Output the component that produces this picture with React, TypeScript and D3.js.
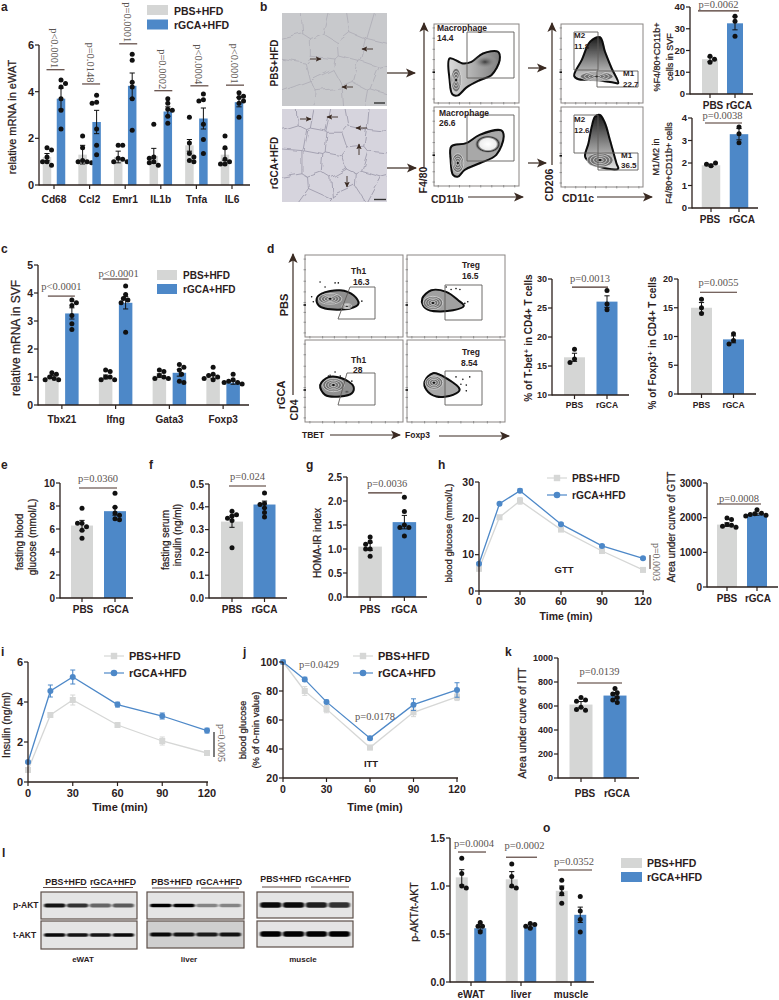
import React from "react";
import * as d3 from "d3";

const GRAY = "#d5d6d5";
const BLUE = "#4d88c8";
const INK = "#2b201c";
const PGREY = "#5b5451";
const SANS = "'Liberation Sans', Arial, 'DejaVu Sans', sans-serif";
const SERIF = "'Liberation Serif', 'Times New Roman', serif";

// panel a
const aGenes = ["Cd68", "Ccl2", "Emr1", "IL1b", "Tnfa", "IL6"];
const aPbsMean = [1.2, 1.3, 1.2, 1.25, 1.7, 1.3];
const aRgcaMean = [3.7, 2.7, 4.25, 3.15, 2.85, 3.55];
const aPbsErr = [0.15, 0.4, 0.25, 0.32, 0.25, 0.25];
const aRgcaErr = [0.45, 0.5, 0.55, 0.2, 0.45, 0.2];
const aPbsDots = [[1.6, 1.5, 1.2, 1.0, 1.0, 0.85], [2.1, 1.6, 1.05, 1.0, 1.0, 0.95], [1.7, 1.7, 1.15, 1.1, 1.0, 1.0], [2.6, 1.2, 1.15, 1.0, 0.95, 0.85], [2.9, 1.8, 1.35, 1.2, 1.05, 1.0], [2.1, 1.6, 1.1, 1.0, 0.9, 0.9]];
const aRgcaDots = [[4.5, 4.35, 4.2, 3.7, 3.2, 2.4], [3.85, 3.55, 3.5, 2.4, 1.7, 1.3], [5.6, 5.35, 4.4, 4.2, 3.7, 2.35], [3.7, 3.5, 3.25, 3.2, 2.95, 2.65], [3.9, 3.65, 3.6, 2.6, 1.95, 1.35], [3.95, 3.8, 3.75, 3.6, 3.5, 2.9]];
const aP = ["p<0.0001", "p=0.0148", "p=0.0001", "p=0.0002", "p<0.0004", "p<0.0001"];
const aPLevel = [4.94, 4.33, 6.05, 4.04, 4.25, 4.28];

// panel b
const twoGroups = ["PBS", "rGCA"];
const bMacMean = [16, 32.5];
const bMacErr = [1, 3];
const bMacDots = [[17.3, 16, 14.6], [35.8, 33.5, 26.5]];
const bRatioMean = [1.9, 3.28];
const bRatioErr = [0.05, 0.25];
const bRatioDots = [[1.88, 2.0, 1.95], [3.6, 3.3, 2.9]];

// panel c
const cGenes = ["Tbx21", "Ifng", "Gata3", "Foxp3"];
const cPbsMean = [1.0, 1.0, 1.05, 1.0];
const cRgcaMean = [3.27, 3.65, 1.15, 0.8];
const cPbsErr = [0.05, 0.07, 0.06, 0.06];
const cRgcaErr = [0.2, 0.22, 0.12, 0.06];
const cPbsDots = [[1.15, 1.1, 1.0, 0.95, 0.9, 0.9], [1.25, 1.2, 1.0, 1.0, 0.9, 0.9], [1.25, 1.2, 1.05, 1.0, 0.95, 0.95], [1.35, 1.1, 1.05, 1.0, 0.95, 0.9]];
const cRgcaDots = [[3.75, 3.65, 3.55, 3.2, 2.9, 2.7], [4.25, 3.95, 3.8, 3.75, 3.65, 2.6], [1.45, 1.35, 1.25, 1.1, 0.85, 0.8], [1.1, 0.9, 0.85, 0.8, 0.8, 0.75]];

// panel d
const dTbetMean = [16.5, 26.1];
const dTbetErr = [0.7, 1.0];
const dTbetDots = [[17.9, 16.2, 15.6], [28, 25.7, 24.7]];
const dFoxMean = [15, 9.5];
const dFoxErr = [0.9, 0.6];
const dFoxDots = [[16.5, 15, 14], [10.5, 9.3, 8.7]];

// panels e f g
const eMean = [6.3, 7.55];
const eErr = [0.45, 0.35];
const eDots = [[7.8, 6.5, 6.5, 6.2, 5.9, 5.2], [9.1, 7.9, 7.4, 7.2, 6.9, 6.8]];
const fMean = [0.335, 0.41];
const fErr = [0.025, 0.015];
const fDots = [[0.38, 0.365, 0.36, 0.35, 0.34, 0.22], [0.46, 0.415, 0.41, 0.395, 0.375, 0.355]];
const gMean = [1.05, 1.56];
const gErr = [0.08, 0.14];
const gDots = [[1.25, 1.15, 1.1, 1.0, 1.0, 0.85], [2.08, 1.78, 1.5, 1.45, 1.45, 1.27]];

// time courses h i j
const minutes = [0, 15, 30, 60, 90, 120];
const hPbs = [6.1, 20.3, 24.8, 16.9, 11, 5.8];
const hRgca = [7.5, 24, 27.6, 18.4, 12.4, 9.0];
const hPbsErr = [0.3, 0.3, 0.9, 0.4, 0.3, 0.3];
const hRgcaErr = [0.3, 0.3, 0.5, 0.3, 0.3, 0.3];
const iPbs = [0.6, 3.35, 4.1, 2.85, 2.05, 1.45];
const iRgca = [1.0, 4.55, 5.25, 3.87, 3.3, 2.57];
const iPbsErr = [0.05, 0.1, 0.25, 0.08, 0.2, 0.08];
const iRgcaErr = [0.05, 0.3, 0.35, 0.12, 0.15, 0.12];
const jPbs = [100, 80, 67.5, 41, 65.3, 75.9];
const jRgca = [100, 88, 72.5, 47.5, 70.6, 80.7];
const jPbsErr = [0, 3, 2.5, 1.5, 3, 2.5];
const jRgcaErr = [0, 1.5, 1.2, 1.2, 4, 5];

// AUC
const hAucMean = [1800, 2100];
const hAucErr = [50, 30];
const hAucDots = [[1990, 1950, 1800, 1780, 1750, 1720], [2230, 2130, 2110, 2090, 2070, 2050]];
const kMean = [612, 687];
const kErr = [25, 25];
const kDots = [[670, 650, 640, 590, 570, 565], [745, 710, 700, 670, 650, 630]];

// panel o
const oTissues = ["eWAT", "liver", "muscle"];
const oPbsMean = [1.09, 1.07, 0.95];
const oRgcaMean = [0.56, 0.58, 0.7];
const oPbsErr = [0.08, 0.08, 0.05];
const oRgcaErr = [0.02, 0.015, 0.08];
const oPbsDots = [[1.29, 1.13, 1.0, 0.98], [1.23, 1.1, 1.0, 0.98], [1.06, 0.98, 0.92, 0.82]];
const oRgcaDots = [[0.62, 0.58, 0.58, 0.52], [0.61, 0.6, 0.58, 0.56], [0.89, 0.74, 0.65, 0.52]];

// blot band strength per lane
const lanes = ["a", "b", "c", "d"];
const blotEwatP = [0.9, 0.75, 0.5, 0.55];
const blotEwatT = [0.95, 0.9, 0.9, 0.95];
const blotLiverP = [1, 1, 0.35, 0.35];
const blotLiverT = [0.95, 0.9, 0.85, 0.9];
const blotMuscleP = [0.95, 0.95, 0.85, 0.75];
const blotMuscleT = [1, 1, 1, 1];

// flow contours, in % of each plot's axes
const macTopOutline = [[18.4, 56.4], [34, 50], [44, 52], [57.6, 62.7], [75.3, 64.8], [77.3, 54.2], [67.5, 35.2], [53.7, 28.8], [38, 19.5], [28.2, 9.7], [21.6, 11], [18.4, 28.8]];
const macBotOutline = [[20.4, 50], [38, 54.2], [53.7, 64.8], [79.2, 70.3], [82, 62.7], [73.3, 39.4], [53.7, 28.8], [36, 20.3], [28.2, 11.9], [22.4, 14], [19.6, 33]];
const m12TopOutline = [[16, 34.5], [25.4, 54.6], [35.5, 77.7], [47.6, 83.2], [53.6, 65], [61.7, 44], [69.8, 25], [63.7, 26], [39.5, 29.4], [21.4, 30]];
const m12BotOutline = [[29.4, 37.8], [33.5, 54.6], [37.5, 75.6], [41.5, 88], [47.6, 90], [53.6, 80], [59.7, 58.8], [67.7, 29.4], [69.8, 23], [55.6, 23], [37.5, 29.4]];
const th1TopOutline = [[12, 47], [17, 53], [35.8, 57], [49.5, 51], [54.6, 40.8], [46, 34.7], [20.5, 34.7], [13.7, 38.8]];
const tregTopOutline = [[15.6, 47], [24.8, 57], [40, 55], [52, 45], [58, 38], [47, 32.6], [23, 32.6], [16.3, 38.8]];
const th1BotOutline = [[15.4, 45], [23.9, 54.7], [37.5, 53.4], [49.5, 43.3], [47.8, 35], [35.8, 31], [20.5, 33]];
const tregBotOutline = [[18, 49.4], [26.5, 59.5], [40, 53.4], [53.7, 39.3], [47, 33], [30, 31], [19.7, 39.3]];
const th1TopEvents = [[15.4, 67], [20.5, 61], [30.7, 66], [34, 66], [6.8, 49], [8.5, 43], [58, 43.7], [52, 47]];
const tregTopEvents = [[40, 61], [45, 58], [50, 59], [54, 58], [62, 43], [59, 41]];
const th1BotEvents = [[24, 56], [30.7, 61], [36, 56], [47.8, 49.8], [25.6, 57]];
const tregBotEvents = [[50, 55], [57, 52], [64, 55], [60.5, 45], [60.5, 38], [55, 46]];
const flowTicks = [5, 18, 30, 42, 55, 68, 82, 95];

// adipocyte centres in the two sections, % of the image
const cellsTop = [[8, 12], [30, 10], [52, 16], [75, 12], [93, 18], [14, 38], [40, 38], [66, 36], [88, 42], [10, 66], [38, 58], [44, 72], [60, 62], [80, 68], [95, 75], [18, 90], [46, 92], [70, 90], [90, 94]];
const cellsBot = [[6, 8], [22, 7], [36, 10], [52, 14], [72, 10], [92, 12], [12, 30], [32, 34], [52, 36], [68, 30], [90, 34], [10, 58], [28, 58], [48, 60], [70, 52], [88, 58], [14, 84], [36, 82], [58, 80], [64, 95], [82, 82], [30, 97], [95, 90]];

function swarm(vals: number[], y: (v: number) => number, r: number) {
  const placed: { x: number; y: number; v: number }[] = [];
  vals.forEach((v, i) => {
    const py = y(v);
    const side = i % 2 ? 1 : -1;
    for (let k = 0; k < 20; k++) {
      const off = k === 0 ? 0 : side * (k % 2 ? 1 : -1) * Math.ceil(k / 2) * r * 0.9;
      if (placed.every((p) => Math.hypot(p.x - off, p.y - py) >= r * 1.7)) {
        placed.push({ x: off, y: py, v });
        break;
      }
    }
  });
  return placed;
}

function Txt({ x, y, s = 10, w = "bold", a = "start", r, serif, fill, children }: any) {
  const col = fill || (serif ? PGREY : INK);
  // the blurry source makes plain axis titles read heavier than regular weight
  const heavy = w === "normal" && !serif;
  return (
    <text
      x={r ? 0 : x}
      y={r ? 0 : y}
      transform={r ? `translate(${x},${y}) rotate(${r})` : undefined}
      fontSize={s}
      fontWeight={w}
      textAnchor={a}
      fontFamily={serif ? SERIF : SANS}
      fill={col}
      stroke={heavy ? col : undefined}
      strokeWidth={heavy ? 0.25 : undefined}
    >
      {children}
    </text>
  );
}

function Arrow({ x1, y1, x2, y2, small }: any) {
  return <line x1={x1} y1={y1} x2={x2} y2={y2} stroke="#3a2a22" strokeWidth={small ? 0.9 : 1.2} markerEnd={small ? "url(#ahs)" : "url(#ah)"} />;
}

function Legend({ x, y1, y2, w, h, tx, b1, b2, s = 10.5 }: any) {
  return (
    <g>
      <rect x={x} y={y1} width={w} height={h} fill={GRAY} />
      <rect x={x} y={y2} width={w} height={h} fill={BLUE} />
      <Txt x={tx} y={b1} s={s}>PBS+HFD</Txt>
      <Txt x={tx} y={b2} s={s}>rGCA+HFD</Txt>
    </g>
  );
}

function BarPanel({ left, right, top, bottom, domain, ticks, fmt = String, cats, catRange, means, errs, dots, barWidth, barStep, labelY, labelDx, labelSize = 10, tickSize = 10.5, sigs = [] }: any) {
  const y = d3.scaleLinear().domain(domain).range([bottom, top]);
  const outer = d3.scaleBand<string>().domain(cats).range(catRange);
  const multi = means.length > 1;
  const pad = barStep ? 1 - barWidth / barStep : 0;
  const inner = d3.scaleBand<number>().domain([0, 1]).range([-(barStep || 0), barStep || 0]).paddingInner(pad).paddingOuter(pad / 2);
  const centre = (c: string) => outer(c)! + outer.bandwidth() / 2;
  return (
    <g>
      {means.map((row: number[], si: number) =>
        row.map((m: number, ci: number) => {
          const cx = centre(cats[ci]) + (multi ? inner(si)! + inner.bandwidth() / 2 : 0);
          const e = errs[si][ci];
          const cap = 2.6;
          return (
            <g key={`${si}-${ci}`}>
              <rect x={cx - barWidth / 2} y={y(m)} width={barWidth} height={bottom - y(m)} fill={multi ? [GRAY, BLUE][si] : [GRAY, BLUE][ci]} />
              <line x1={cx} x2={cx} y1={y(m + e)} y2={y(m - e)} stroke="#111" strokeWidth={1} />
              <line x1={cx - cap} x2={cx + cap} y1={y(m + e)} y2={y(m + e)} stroke="#111" strokeWidth={1} />
              <line x1={cx - cap} x2={cx + cap} y1={y(m - e)} y2={y(m - e)} stroke="#111" strokeWidth={1} />
              {swarm(dots[si][ci], y, 2.5).map((p, i) => (
                <circle key={i} cx={cx + p.x} cy={p.y} r={2.5} fill="#111" />
              ))}
            </g>
          );
        })
      )}
      <line x1={left} x2={left} y1={top} y2={bottom + 0.6} stroke={INK} strokeWidth={1.3} />
      <line x1={left} x2={right} y1={bottom} y2={bottom} stroke={INK} strokeWidth={1.3} />
      {ticks.map((t: number) => (
        <g key={t}>
          <line x1={left - 4} x2={left} y1={y(t)} y2={y(t)} stroke={INK} strokeWidth={1.2} />
          <Txt x={left - 5} y={y(t) + tickSize * 0.36} s={tickSize} a="end">{fmt(t)}</Txt>
        </g>
      ))}
      {cats.map((c: string, i: number) => (
        <g key={c}>
          <line x1={centre(c)} x2={centre(c)} y1={bottom} y2={bottom + 4} stroke={INK} strokeWidth={1.2} />
          <Txt x={centre(c) + (labelDx ? labelDx[i] : 0)} y={labelY} s={labelSize} a="middle">{c}</Txt>
        </g>
      ))}
      {sigs.map((g: any) => {
        const mid = centre(g.cat) + g.dx;
        const yy = y(g.value);
        return (
          <g key={g.cat + g.text}>
            <line x1={mid - g.half} x2={mid + g.half} y1={yy} y2={yy} stroke="#4a322b" strokeWidth={1.1} />
            {g.rot ? (
              <Txt x={mid - 4.5} y={yy - 1.5} s={10.5} w="normal" a="end" r={90} serif>{g.text}</Txt>
            ) : (
              <Txt x={mid + (g.tx || 0)} y={yy - (g.ty ?? 4)} s={10.5} w="normal" a="middle" serif>{g.text}</Txt>
            )}
          </g>
        );
      })}
    </g>
  );
}

function LinePanel({ left, right, top, bottom, yDomain, yTicks, pbs, rgca, pbsErr, rgcaErr, labelY, tickSize = 10.5 }: any) {
  const x = d3.scaleLinear().domain([0, 120]).range([left, right]);
  const y = d3.scaleLinear().domain(yDomain).range([bottom, top]);
  const path = d3.line<number>().x((_, i) => x(minutes[i])).y((d) => y(d));
  const xTicks = [0, 30, 60, 90, 120];
  return (
    <g>
      <path d={path(pbs)!} fill="none" stroke="#d6d7d6" strokeWidth={1.3} />
      {pbs.map((v: number, i: number) => (
        <g key={i}>
          <line x1={x(minutes[i])} x2={x(minutes[i])} y1={y(v + pbsErr[i])} y2={y(v - pbsErr[i])} stroke="#d6d7d6" strokeWidth={1.1} />
          <line x1={x(minutes[i]) - 2.5} x2={x(minutes[i]) + 2.5} y1={y(v + pbsErr[i])} y2={y(v + pbsErr[i])} stroke="#d6d7d6" strokeWidth={1} />
          <line x1={x(minutes[i]) - 2.5} x2={x(minutes[i]) + 2.5} y1={y(v - pbsErr[i])} y2={y(v - pbsErr[i])} stroke="#d6d7d6" strokeWidth={1} />
          <rect x={x(minutes[i]) - 3} y={y(v) - 3} width={6} height={6} fill="#d6d7d6" />
        </g>
      ))}
      <path d={path(rgca)!} fill="none" stroke={BLUE} strokeWidth={1.3} />
      {rgca.map((v: number, i: number) => (
        <g key={i}>
          <line x1={x(minutes[i])} x2={x(minutes[i])} y1={y(v + rgcaErr[i])} y2={y(v - rgcaErr[i])} stroke={BLUE} strokeWidth={1.1} />
          <line x1={x(minutes[i]) - 2.5} x2={x(minutes[i]) + 2.5} y1={y(v + rgcaErr[i])} y2={y(v + rgcaErr[i])} stroke={BLUE} strokeWidth={1} />
          <line x1={x(minutes[i]) - 2.5} x2={x(minutes[i]) + 2.5} y1={y(v - rgcaErr[i])} y2={y(v - rgcaErr[i])} stroke={BLUE} strokeWidth={1} />
          <circle cx={x(minutes[i])} cy={y(v)} r={3} fill={BLUE} />
        </g>
      ))}
      <line x1={left} x2={left} y1={top} y2={bottom} stroke={INK} strokeWidth={1.3} />
      <line x1={left} x2={right + 1} y1={bottom} y2={bottom} stroke={INK} strokeWidth={1.3} />
      {yTicks.map((t: number) => (
        <g key={t}>
          <line x1={left - 4} x2={left} y1={y(t)} y2={y(t)} stroke={INK} strokeWidth={1.2} />
          <Txt x={left - 5} y={y(t) + tickSize * 0.36} s={tickSize} a="end">{t}</Txt>
        </g>
      ))}
      {xTicks.map((t) => (
        <g key={t}>
          <line x1={x(t)} x2={x(t)} y1={bottom} y2={bottom + 4} stroke={INK} strokeWidth={1.2} />
          <Txt x={x(t)} y={labelY} s={tickSize} a="middle">{t}</Txt>
        </g>
      ))}
    </g>
  );
}

function LineLegend({ x, y1, y2, tx, b1, b2, s = 10.5 }: any) {
  return (
    <g>
      <line x1={x - 10} x2={x + 10} y1={y1} y2={y1} stroke="#d6d7d6" strokeWidth={1.2} />
      <rect x={x - 3.2} y={y1 - 3.2} width={6.4} height={6.4} fill="#d6d7d6" />
      <line x1={x - 10} x2={x + 10} y1={y2} y2={y2} stroke={BLUE} strokeWidth={1.2} />
      <circle cx={x} cy={y2} r={3.3} fill={BLUE} />
      <Txt x={tx} y={b1} s={s}>PBS+HFD</Txt>
      <Txt x={tx} y={b2} s={s}>rGCA+HFD</Txt>
    </g>
  );
}

function Flow({ x0, x1, y0, y1, outline, fill = "#b4b4b4", lobes = [], events = [], gates = [] }: any) {
  const x = d3.scaleLinear().domain([0, 100]).range([x0, x1]);
  const y = d3.scaleLinear().domain([0, 100]).range([y1, y0]);
  const blob = d3.line<number[]>().x((d) => x(d[0])).y((d) => y(d[1])).curve(d3.curveCatmullRomClosed.alpha(0.5));
  const kx = (x1 - x0) / 100;
  const ky = (y1 - y0) / 100;
  return (
    <g>
      <rect x={x0} y={y0} width={x1 - x0} height={y1 - y0} fill="#fff" stroke="#8a8583" strokeWidth={1} />
      {flowTicks.map((t) => (
        <g key={t} stroke="#666" strokeWidth={0.6}>
          <line x1={x0 - 1.5} x2={x0 + 1} y1={y(t)} y2={y(t)} />
          <line x1={x(t)} x2={x(t)} y1={y1 - 1} y2={y1 + 1.5} />
        </g>
      ))}
      <rect x={x0 - 1.5} y={y(40)} width={2.5} height={1.6} fill="#111" />
      <g filter="url(#soft)">
        {events.map((d: number[], i: number) => (
          <circle key={i} cx={x(d[0])} cy={y(d[1])} r={0.8} fill="#111" />
        ))}
        <path d={blob(outline)!} fill={fill} stroke="#0a0a0a" strokeWidth={2} strokeLinejoin="round" />
        {lobes.map((l: any, i: number) => {
          const cx = x(l.u);
          const cy = y(l.v);
          const rx = l.rx * kx;
          const ry = l.ry * ky;
          if (l.kind === "rings") {
            return (
              <g key={i}>
                <ellipse cx={cx} cy={cy} rx={rx} ry={ry} fill="#6f6f6f" />
                {d3.range(1, 5).map((k) => (
                  <ellipse key={k} cx={cx} cy={cy} rx={(rx * k) / 4} ry={(ry * k) / 4} fill="none" stroke="#ededed" strokeWidth={0.65} />
                ))}
                <ellipse cx={cx} cy={cy} rx={Math.min(1.2, rx / 4)} ry={Math.min(1, ry / 4)} fill="#111" />
              </g>
            );
          }
          return <ellipse key={i} cx={cx} cy={cy} rx={rx} ry={ry} fill={l.kind === "white" ? "url(#lobeWhite)" : "url(#lobeDark)"} />;
        })}
      </g>
      {gates.map((g: number[][], i: number) => (
        <polygon key={i} points={g.map((p) => p.join(",")).join(" ")} fill="none" stroke="#5f5b59" strokeWidth={0.9} />
      ))}
    </g>
  );
}

function Section({ x0, x1, y0, y1, cells, bg, stroke, clip }: any) {
  const x = d3.scaleLinear().domain([0, 100]).range([x0, x1]);
  const y = d3.scaleLinear().domain([0, 100]).range([y0, y1]);
  const v = d3.Delaunay.from(cells as number[][], (d) => x(d[0]), (d) => y(d[1])).voronoi([x0, y0, x1, y1]);
  return (
    <g clipPath={`url(#${clip})`}>
      <rect x={x0} y={y0} width={x1 - x0} height={y1 - y0} fill={bg} />
      <path d={v.render()} fill="none" stroke={stroke} strokeWidth={0.7} filter="url(#wobble)" />
    </g>
  );
}

function Blot({ x0, x1, y0, y1, strength, bg = "#e4e4e4", band = 4 }: any) {
  const lane = d3.scaleBand<string>().domain(lanes).range([x0 + 3, x1 - 3]).paddingInner(0.06);
  const grey = d3.scaleLinear().domain([0, 1]).range([0.1, 1]);
  const mid = (y0 + y1) / 2;
  return (
    <g>
      <rect x={x0} y={y0} width={x1 - x0} height={y1 - y0} fill={bg} stroke="#5c4f49" strokeWidth={1.2} />
      {strength.map((s: number, i: number) => (
        <rect key={i} x={lane(lanes[i])} y={mid - band / 2} width={lane.bandwidth()} height={band} rx={band / 2} fill="#050505" opacity={grey(s)} filter="url(#blot)" />
      ))}
    </g>
  );
}

export default function App() {
  const f1 = d3.format(".1f");
  return (
    <svg width={779} height={1000} viewBox="0 0 779 1000" style={{ position: "absolute", left: 0, top: 0, background: "#fff" }}>
      <defs>
        <marker id="ah" viewBox="0 -5 10 10" refX="9" refY="0" markerWidth="10" markerHeight="10" markerUnits="userSpaceOnUse" orient="auto">
          <path d="M0,-4.6 L10,0 L0,4.6 L2.4,0 Z" fill="#3a2a22" />
        </marker>
        <marker id="ahs" viewBox="0 -5 10 10" refX="9" refY="0" markerWidth="6" markerHeight="6" markerUnits="userSpaceOnUse" orient="auto">
          <path d="M0,-4.6 L10,0 L0,4.6 L2.4,0 Z" fill="#3a2a22" />
        </marker>
        <filter id="soft"><feGaussianBlur stdDeviation="0.35" /></filter>
        <filter id="wobble" x="-5%" y="-5%" width="110%" height="110%">
          <feTurbulence type="fractalNoise" baseFrequency="0.07" numOctaves="2" seed="4" />
          <feDisplacementMap in="SourceGraphic" scale="7" />
          <feGaussianBlur stdDeviation="0.3" />
        </filter>
        <filter id="blot" x="-20%" y="-200%" width="140%" height="500%"><feGaussianBlur stdDeviation="1 0.7" /></filter>
        <radialGradient id="lobeDark"><stop offset="0%" stopColor="#3a3a3a" /><stop offset="100%" stopColor="#b4b4b4" stopOpacity="0" /></radialGradient>
        <radialGradient id="lobeWhite"><stop offset="0%" stopColor="#fff" /><stop offset="65%" stopColor="#eee" /><stop offset="85%" stopColor="#333" /><stop offset="100%" stopColor="#777" stopOpacity="0.2" /></radialGradient>
        <linearGradient id="m12" x1="0" x2="0" y1="0" y2="1"><stop offset="0%" stopColor="#1a1a1a" /><stop offset="55%" stopColor="#8e8e8e" /><stop offset="100%" stopColor="#e4e4e4" /></linearGradient>
        <linearGradient id="macGrad" x1="0" x2="1" y1="0" y2="0"><stop offset="0%" stopColor="#dcdcdc" /><stop offset="100%" stopColor="#7d7d7d" /></linearGradient>
        <clipPath id="sec1"><rect x={282} y={13} width={105} height={93} /></clipPath>
        <clipPath id="sec2"><rect x={282} y={109} width={105} height={93} /></clipPath>
      </defs>

      {/* panel letters */}
      <Txt x={1} y={11} s={12}>a</Txt>
      <Txt x={260} y={11} s={12}>b</Txt>
      <Txt x={1} y={253} s={12}>c</Txt>
      <Txt x={267} y={253} s={12}>d</Txt>
      <Txt x={1} y={469} s={12}>e</Txt>
      <Txt x={149} y={469} s={12}>f</Txt>
      <Txt x={306} y={469} s={12}>g</Txt>
      <Txt x={438} y={469} s={12}>h</Txt>
      <Txt x={1} y={656} s={12}>i</Txt>
      <Txt x={243} y={656} s={12}>j</Txt>
      <Txt x={505} y={656} s={12}>k</Txt>
      <Txt x={2} y={857} s={12}>l</Txt>
      <Txt x={543} y={832} s={12}>o</Txt>

      {/* a */}
      <Legend x={147} y1={5} y2={19.5} w={21} h={10} tx={174} b1={14.5} b2={29} />
      <Txt x={16} y={117} s={11} w="normal" a="middle" r={-90}>relative mRNA in eWAT</Txt>
      <BarPanel
        left={39} right={250} top={45} bottom={185} domain={[0, 6]} ticks={[0, 2, 4, 6]}
        cats={aGenes} catRange={[36.2, 249.8]} means={[aPbsMean, aRgcaMean]} errs={[aPbsErr, aRgcaErr]} dots={[aPbsDots, aRgcaDots]}
        barWidth={8.5} barStep={14} labelY={203} labelSize={10.2} tickSize={11}
        sigs={aGenes.map((g, i) => ({ cat: g, dx: [1.5, 1.5, 3, 2.5, 3, 3][i], half: 9, value: aPLevel[i], text: aP[i], rot: true }))}
      />

      {/* b */}
      <Txt x={278} y={63} s={10} a="middle" r={-90}>PBS+HFD</Txt>
      <Txt x={278} y={163} s={10} a="middle" r={-90}>rGCA+HFD</Txt>
      <Section x0={282} x1={387} y0={13} y1={106} cells={cellsTop} bg="#c8c9cc" stroke="#a9a8b1" clip="sec1" />
      <Section x0={282} x1={387} y0={109} y1={202} cells={cellsBot} bg="#d6d4dd" stroke="#8f8c9f" clip="sec2" />
      <Arrow small x1={373} y1={49} x2={362} y2={49} />
      <Arrow small x1={310} y1={59} x2={321} y2={59} />
      <Arrow small x1={353} y1={87} x2={342} y2={87} />
      <Arrow small x1={300} y1={119} x2={311} y2={119} />
      <Arrow small x1={338} y1={117} x2={327} y2={117} />
      <Arrow small x1={367} y1={128} x2={356} y2={128} />
      <Arrow small x1={359} y1={155} x2={359} y2={144} />
      <Arrow small x1={347} y1={176} x2={347} y2={187} />
      <line x1={374} x2={385} y1={103} y2={103} stroke="#333" strokeWidth={1.4} />
      <line x1={374} x2={386} y1={199.5} y2={199.5} stroke="#333" strokeWidth={1.4} />
      <Arrow x1={387} y1={73} x2={415} y2={73} />
      <Arrow x1={387} y1={168} x2={416} y2={168} />
      <Arrow x1={424} y1={167} x2={424} y2={23} />
      <Txt x={427} y={180} s={10.5} a="middle" r={-90}>F4/80</Txt>
      <Flow x0={434} x1={519} y0={24} y1={103} outline={macTopOutline} fill="url(#macGrad)"
        lobes={[{ u: 26, v: 29, rx: 6, ry: 15, kind: "rings" }, { u: 60, v: 52, rx: 15, ry: 9, kind: "dark" }]}
        gates={[[[467, 32], [514, 32], [514, 78], [467, 78]]]} />
      <Flow x0={434} x1={519} y0={107} y1={186} outline={macBotOutline} fill="#a8a8a8"
        lobes={[{ u: 28, v: 29, rx: 7, ry: 12, kind: "rings" }, { u: 63.5, v: 53, rx: 15, ry: 11, kind: "white" }]}
        gates={[[[467, 115], [514, 115], [514, 161], [467, 161]]]} />
      <Txt x={437} y={31} s={8.5}>Macrophage</Txt>
      <Txt x={437} y={41} s={8.5}>14.4</Txt>
      <Txt x={439} y={116} s={8.5}>Macrophage</Txt>
      <Txt x={439} y={126} s={8.5}>26.6</Txt>
      <Txt x={431} y={203} s={10.5}>CD11b</Txt>
      <Arrow x1={468} y1={197} x2={523} y2={197} />
      <Arrow x1={528} y1={68} x2={546} y2={68} />
      <Arrow x1={528} y1={163} x2={546} y2={163} />
      <Arrow x1={552} y1={165} x2={552} y2={23} />
      <Txt x={553} y={185} s={10.5} a="middle" r={-90}>CD206</Txt>
      <Flow x0={561} x1={643} y0={24} y1={103} outline={m12TopOutline} fill="url(#m12)"
        lobes={[{ u: 43.5, v: 33.6, rx: 20, ry: 6, kind: "rings" }]}
        gates={[[[574, 32], [598, 32], [598, 70], [574, 70]], [[597, 71], [638, 71], [638, 87], [597, 87]]]} />
      <Flow x0={561} x1={643} y0={107} y1={187} outline={m12BotOutline} fill="url(#m12)"
        lobes={[{ u: 47.6, v: 33.6, rx: 16, ry: 9, kind: "rings" }]}
        gates={[[[574, 115], [598, 115], [598, 153], [574, 153]], [[598, 153], [638, 153], [638, 170], [598, 170]]]} />
      <Txt x={574} y={38} s={8}>M2</Txt>
      <Txt x={574} y={49} s={8}>11.8</Txt>
      <Txt x={623} y={76} s={8}>M1</Txt>
      <Txt x={623} y={87} s={8}>22.7</Txt>
      <Txt x={574} y={122} s={8}>M2</Txt>
      <Txt x={574} y={133} s={8}>12.6</Txt>
      <Txt x={621} y={158} s={8}>M1</Txt>
      <Txt x={621} y={168} s={8}>36.5</Txt>
      <Txt x={562} y={202} s={10.5}>CD11c</Txt>
      <Arrow x1={597} y1={197} x2={652} y2={197} />
      <Txt x={660} y={57} s={9} w="normal" a="middle" r={-90}>%F4/80+CD11b+</Txt>
      <Txt x={673} y={57} s={9} w="normal" a="middle" r={-90}>cells in SVF</Txt>
      <BarPanel
        left={690} right={753} top={7} bottom={94} domain={[0, 40]} ticks={[0, 10, 20, 30, 40]}
        cats={twoGroups} catRange={[697.5, 747.5]} means={[bMacMean]} errs={[bMacErr]} dots={[bMacDots]}
        barWidth={16} labelY={109} labelDx={[3, 4]} tickSize={9.5}
        sigs={[{ cat: "PBS", dx: 8.5, half: 20.5, value: 38.2, text: "p=0.0062", ty: 3 }]}
      />
      <Txt x={659} y={157} s={9} w="normal" a="middle" r={-90}>M1/M2 in</Txt>
      <Txt x={672} y={163} s={9} w="normal" a="middle" r={-90}>F4/80+CD11b+ cells</Txt>
      <BarPanel
        left={692} right={758} top={118} bottom={208} domain={[0, 4]} ticks={[0, 1, 2, 3, 4]}
        cats={twoGroups} catRange={[697, 753]} means={[bRatioMean]} errs={[bRatioErr]} dots={[bRatioDots]}
        barWidth={18.5} labelY={223} labelDx={[-1, 3]} tickSize={9.5}
        sigs={[{ cat: "PBS", dx: 12.5, half: 18.5, value: 3.78, text: "p=0.0038", ty: 3.5, tx: -1 }]}
      />

      {/* c */}
      <Txt x={20} y={338} s={12} w="normal" a="middle" r={-90}>relative mRNA in SVF</Txt>
      <BarPanel
        left={38} right={249} top={265} bottom={405} domain={[0, 5]} ticks={[0, 1, 2, 3, 4, 5]}
        cats={cGenes} catRange={[35, 250]} means={[cPbsMean, cRgcaMean]} errs={[cPbsErr, cRgcaErr]} dots={[cPbsDots, cRgcaDots]}
        barWidth={13.5} barStep={20} labelY={423} labelSize={10} tickSize={10.5}
        sigs={[
          { cat: "Tbx21", dx: -0.5, half: 13.5, value: 3.89, text: "p<0.0001", ty: 6 },
          { cat: "Ifng", dx: 0, half: 13, value: 4.5, text: "p<0.0001", ty: 2.5, tx: 3 },
        ]}
      />
      <Legend x={157} y1={270} y2={284} w={20} h={10} tx={183} b1={279} b2={293} s={10} />

      {/* d */}
      <Arrow x1={293} y1={395} x2={293} y2={254} />
      <Txt x={288} y={305} s={11} a="middle" r={-90}>PBS</Txt>
      <Txt x={285} y={395} s={11} a="middle" r={-90}>rGCA</Txt>
      <Txt x={298} y={410} s={10.5} a="middle" r={-90}>CD4</Txt>
      <Flow x0={305} x1={403} y0={255} y1={337} outline={th1TopOutline} fill="#909090" events={th1TopEvents}
        lobes={[{ u: 25.6, v: 46.5, rx: 12, ry: 6.5, kind: "rings" }, { u: 42.7, v: 37.5, rx: 5, ry: 3, kind: "rings" }]}
        gates={[[[350, 287], [375, 287], [375, 319], [338, 319]]]} />
      <Flow x0={407} x1={505} y0={255} y1={337} outline={tregTopOutline} fill="#a0a0a0" events={tregTopEvents}
        lobes={[{ u: 26.5, v: 41.6, rx: 10, ry: 8, kind: "rings" }]}
        gates={[[[445, 285], [482, 285], [482, 320], [445, 320]]]} />
      <Flow x0={305} x1={403} y0={340} y1={422} outline={th1BotOutline} fill="#909090" events={th1BotEvents}
        lobes={[{ u: 29, v: 45, rx: 11, ry: 8, kind: "rings" }, { u: 42.7, v: 36.8, rx: 4, ry: 3, kind: "dark" }]}
        gates={[[[347, 373], [375, 373], [375, 405], [338, 405]]]} />
      <Flow x0={407} x1={505} y0={340} y1={422} outline={tregBotOutline} fill="#a8a8a8" events={tregBotEvents}
        lobes={[{ u: 27.5, v: 48, rx: 9, ry: 8, kind: "rings" }]}
        gates={[[[445, 371], [482, 371], [482, 405], [445, 405]]]} />
      <Txt x={351} y={274} s={8.5}>Th1</Txt>
      <Txt x={353} y={285} s={8.5}>16.3</Txt>
      <Txt x={462} y={268} s={8.5}>Treg</Txt>
      <Txt x={462} y={279} s={8.5}>16.5</Txt>
      <Txt x={351} y={363} s={8.5}>Th1</Txt>
      <Txt x={353} y={373} s={8.5}>28</Txt>
      <Txt x={462} y={355} s={8.5}>Treg</Txt>
      <Txt x={461} y={366} s={8.5}>8.54</Txt>
      <Txt x={302} y={438} s={8.5}>TBET</Txt>
      <Arrow x1={330} y1={435} x2={400} y2={435} />
      <Txt x={405} y={438} s={8.5}>Foxp3</Txt>
      <Arrow x1={439} y1={436} x2={509} y2={436} />
      <Txt x={532} y={338} s={10} a="middle" r={-90}>% of T-bet⁺ in CD4+ T cells</Txt>
      <BarPanel
        left={552} right={629} top={279} bottom={395} domain={[10, 30]} ticks={[10, 15, 20, 25, 30]}
        cats={twoGroups} catRange={[558.25, 623.25]} means={[dTbetMean]} errs={[dTbetErr]} dots={[dTbetDots]}
        barWidth={21} labelY={408} labelSize={8.5} tickSize={9}
        sigs={[{ cat: "PBS", dx: 15.5, half: 18, value: 28.6, text: "p=0.0013", ty: 5 }]}
      />
      <Txt x={656} y={343} s={10} a="middle" r={-90}>% of Foxp3⁺ in CD4+ T cells</Txt>
      <BarPanel
        left={678} right={756} top={279} bottom={394} domain={[0, 20]} ticks={[0, 5, 10, 15, 20]}
        cats={twoGroups} catRange={[685.5, 749.5]} means={[dFoxMean]} errs={[dFoxErr]} dots={[dFoxDots]}
        barWidth={21} labelY={408} labelSize={8.5} tickSize={9}
        sigs={[{ cat: "PBS", dx: 17, half: 18.5, value: 17.7, text: "p=0.0055", ty: 6 }]}
      />

      {/* e f g */}
      <Txt x={23} y={542} s={10} w="normal" a="middle" r={-90}>fasting blood</Txt>
      <Txt x={36} y={537} s={10} w="normal" a="middle" r={-90}>glucose (mmol/L)</Txt>
      <BarPanel
        left={60} right={133} top={483} bottom={598} domain={[0, 10]} ticks={[0, 2, 4, 6, 8, 10]}
        cats={twoGroups} catRange={[65.5, 131.5]} means={[eMean]} errs={[eErr]} dots={[eDots]}
        barWidth={22} labelY={613} labelDx={[1, 1]} tickSize={10}
        sigs={[{ cat: "PBS", dx: 16, half: 19, value: 9.57, text: "p=0.0360", ty: 6 }]}
      />
      <Txt x={169} y={540} s={10} w="normal" a="middle" r={-90}>fasting serum</Txt>
      <Txt x={181} y={535} s={10} w="normal" a="middle" r={-90}>insulin (ng/ml)</Txt>
      <BarPanel
        left={209} right={287} top={484} bottom={598} domain={[0, 0.5]} ticks={[0, 0.1, 0.2, 0.3, 0.4, 0.5]} fmt={f1}
        cats={twoGroups} catRange={[215.75, 280.75]} means={[fMean]} errs={[fErr]} dots={[fDots]}
        barWidth={22} labelY={613} tickSize={10}
        sigs={[{ cat: "PBS", dx: 15.5, half: 18.5, value: 0.491, text: "p=0.024", ty: 6 }]}
      />
      <Txt x={321} y={543} s={10} a="middle" w="normal" r={-90}>HOMA-IR index</Txt>
      <BarPanel
        left={347} right={427} top={477} bottom={597} domain={[0, 2.5]} ticks={[0, 0.5, 1, 1.5, 2, 2.5]} fmt={f1}
        cats={twoGroups} catRange={[353, 421.5]} means={[gMean]} errs={[gErr]} dots={[gDots]}
        barWidth={23.5} labelY={613} tickSize={10}
        sigs={[{ cat: "PBS", dx: 15, half: 17, value: 2.17, text: "p=0.0036", ty: 6, tx: 2 }]}
      />

      {/* h */}
      <LinePanel left={479} right={643} top={482} bottom={591} yDomain={[0, 30]} yTicks={[0, 10, 20, 30]} pbs={hPbs} rgca={hRgca} pbsErr={hPbsErr} rgcaErr={hRgcaErr} labelY={605} tickSize={10.5} />
      <LineLegend x={557} y1={478} y2={495} tx={572} b1={482} b2={499} s={10.2} />
      <Txt x={452} y={533} s={9.5} w="normal" a="middle" r={-90}>blood glucose (mmol/L)</Txt>
      <Txt x={564} y={573} s={9.5} a="middle">GTT</Txt>
      <line x1={650} x2={650} y1={555} y2={569} stroke="#4a322b" strokeWidth={1.1} />
      <Txt x={652.5} y={562} s={10} w="normal" a="middle" r={90} serif>p=0.0003</Txt>
      <Txt x={566} y={620} s={10.5} a="middle">Time (min)</Txt>
      <Txt x={675} y={527} s={10} w="normal" a="middle" r={-90}>Area under curve of GTT</Txt>
      <BarPanel
        left={707} right={778} top={483} bottom={587} domain={[0, 3000]} ticks={[0, 1000, 2000, 3000]}
        cats={twoGroups} catRange={[712, 772]} means={[hAucMean]} errs={[hAucErr]} dots={[hAucDots]}
        barWidth={20} labelY={602} labelDx={[0, 1]} tickSize={10}
        sigs={[{ cat: "PBS", dx: 12, half: 22, value: 2394, text: "p=0.0008", ty: 2 }]}
      />

      {/* i */}
      <LinePanel left={28} right={207} top={662} bottom={782} yDomain={[0, 6]} yTicks={[0, 2, 4, 6]} pbs={iPbs} rgca={iRgca} pbsErr={iPbsErr} rgcaErr={iRgcaErr} labelY={797} tickSize={11} />
      <LineLegend x={114} y1={656} y2={673} tx={129} b1={659.5} b2={676.5} s={11} />
      <Txt x={10} y={725} s={10.5} w="normal" a="middle" r={-90}>Insulin (ng/ml)</Txt>
      <line x1={214} x2={214} y1={732} y2={757} stroke="#111" strokeWidth={1.1} />
      <Txt x={218} y={743} s={10} w="normal" a="middle" r={90} serif>p=0.0005</Txt>
      <Txt x={120} y={811} s={11} a="middle">Time (min)</Txt>

      {/* j */}
      <LinePanel left={283} right={457} top={662} bottom={778} yDomain={[20, 100]} yTicks={[20, 40, 60, 80, 100]} pbs={jPbs} rgca={jRgca} pbsErr={jPbsErr} rgcaErr={jRgcaErr} labelY={793} tickSize={10.5} />
      <LineLegend x={363} y1={656} y2={673} tx={378} b1={659.5} b2={676.5} s={11} />
      <Txt x={246} y={730} s={9.5} w="normal" a="middle" r={-90}>blood glucose</Txt>
      <Txt x={259} y={730} s={9.5} w="normal" a="middle" r={-90}>(% of  0-min value)</Txt>
      <Txt x={319} y={668} s={10.5} w="normal" a="middle" serif>p=0.0429</Txt>
      <Txt x={375} y={720} s={10.5} w="normal" a="middle" serif>p=0.0178</Txt>
      <Txt x={371} y={767} s={9.5} a="middle">ITT</Txt>
      <Txt x={375} y={811} s={11} a="middle">Time (min)</Txt>

      {/* k */}
      <Txt x={526} y={723} s={10.5} w="normal" a="middle" r={-90}>Area under curve of ITT</Txt>
      <BarPanel
        left={558} right={639} top={658} bottom={778} domain={[0, 1000]} ticks={[0, 200, 400, 600, 800, 1000]}
        cats={twoGroups} catRange={[564, 632]} means={[kMean]} errs={[kErr]} dots={[kDots]}
        barWidth={23} labelY={797} labelDx={[4, 2]} tickSize={9}
        sigs={[{ cat: "PBS", dx: 18.5, half: 22.5, value: 792, text: "p=0.0139", ty: 8 }]}
      />

      {/* l */}
      <Txt x={66} y={885} s={8.8} a="middle">PBS+HFD</Txt>
      <Txt x={113} y={885} s={8.8} a="middle">rGCA+HFD</Txt>
      <Txt x={172} y={885} s={8.8} a="middle">PBS+HFD</Txt>
      <Txt x={219} y={885} s={8.8} a="middle">rGCA+HFD</Txt>
      <Txt x={281} y={882} s={8.8} a="middle">PBS+HFD</Txt>
      <Txt x={328} y={882} s={8.8} a="middle">rGCA+HFD</Txt>
      <g stroke="#4a322b" strokeWidth={0.9}>
        <line x1={43} x2={87} y1={887.5} y2={887.5} />
        <line x1={91} x2={133} y1={887.5} y2={887.5} />
        <line x1={152} x2={191} y1={888} y2={888} />
        <line x1={201} x2={239} y1={888} y2={888} />
        <line x1={262} x2={301} y1={887} y2={887} />
        <line x1={311} x2={349} y1={887} y2={887} />
      </g>
      <Blot x0={41} x1={137} y0={892} y1={919} strength={blotEwatP} band={4.2} />
      <Blot x0={41} x1={137} y0={921} y1={949} strength={blotEwatT} band={3.4} />
      <Blot x0={147} x1={244} y0={892} y1={919} strength={blotLiverP} band={3.6} />
      <Blot x0={147} x1={244} y0={921} y1={948} strength={blotLiverT} bg="#cfcfcf" band={3.8} />
      <Blot x0={257} x1={353} y0={892} y1={918} strength={blotMuscleP} band={5.5} />
      <Blot x0={257} x1={353} y0={921} y1={947} strength={blotMuscleT} band={5.5} />
      <Txt x={13} y={908} s={8.5}>p-AKT</Txt>
      <Txt x={13} y={938} s={8.5}>t-AKT</Txt>
      <Txt x={83} y={962} s={8} a="middle">eWAT</Txt>
      <Txt x={189} y={962} s={8} a="middle">liver</Txt>
      <Txt x={303} y={962} s={8} a="middle">muscle</Txt>

      {/* o */}
      <Txt x={418} y={912} s={10.5} w="normal" a="middle" r={-90}>p-AKT/t-AKT</Txt>
      <BarPanel
        left={450} right={594} top={838} bottom={982} domain={[0, 1.5]} ticks={[0, 0.5, 1, 1.5]} fmt={f1}
        cats={oTissues} catRange={[446, 596]} means={[oPbsMean, oRgcaMean]} errs={[oPbsErr, oRgcaErr]} dots={[oPbsDots, oRgcaDots]}
        barWidth={12} barStep={18.5} labelY={998} tickSize={10.5}
        sigs={[
          { cat: "eWAT", dx: 1, half: 14, value: 1.354, text: "p=0.0004", ty: 5, tx: 2 },
          { cat: "liver", dx: 0.5, half: 15.5, value: 1.3, text: "p=0.0002", ty: 8, tx: 3 },
          { cat: "muscle", dx: 4, half: 17, value: 1.167, text: "p=0.0352", ty: 5, tx: -1 },
        ]}
      />
      <Legend x={621} y1={858} y2={872} w={21} h={10} tx={647} b1={867} b2={881} />
    </svg>
  );
}
